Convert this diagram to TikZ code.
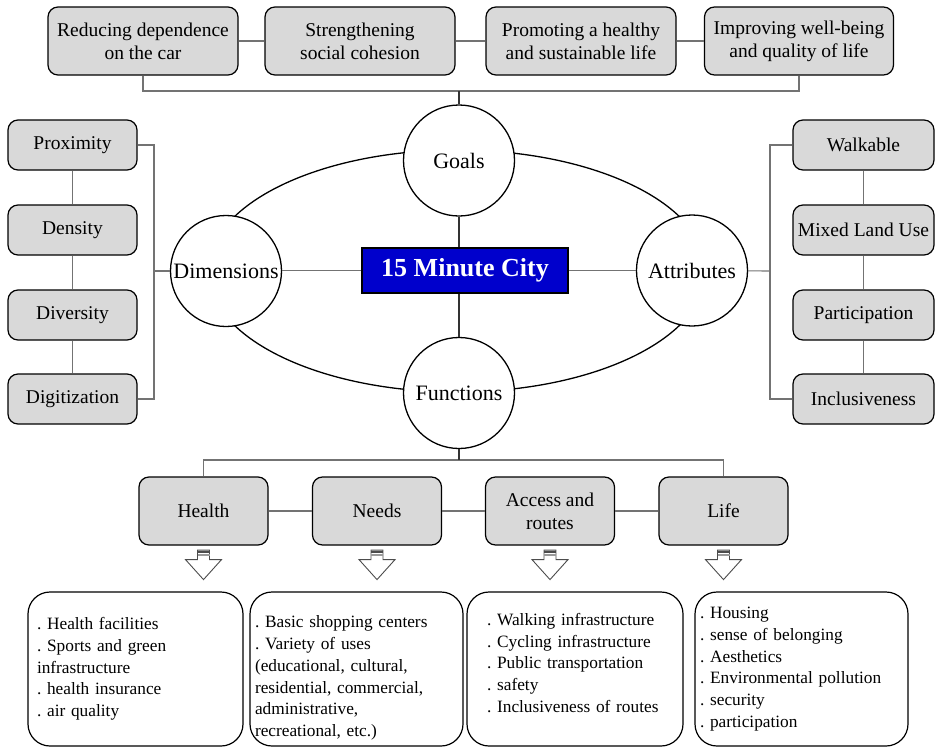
\documentclass[tikz,border=0pt]{standalone}
\usepackage{fontspec}
\setmainfont{Liberation Serif}
\usepackage{tikz}
\usepackage{xcolor}
\definecolor{cityblue}{RGB}{0,0,204}
\definecolor{boxgray}{RGB}{217,217,217}
\frenchspacing

% hollow arrow under a node
\newcommand{\hollowarrow}[1]{%
  \begin{scope}[shift={(#1.south)}]
    \draw[arrowline] (-6,4.5) -- (6,4.5) -- (6,14) -- (18,14) -- (0,34) -- (-18,14) -- (-6,14) -- cycle;
    \fill[black!70] (-6,5) rectangle (6,7);
    \fill[black!40] (-6,8) rectangle (6,10);
  \end{scope}}

\begin{document}
\begin{tikzpicture}[x=1pt,y=-1pt,
% common options for the gray boxes:
block/.style = {draw, fill=boxgray, rounded corners=10pt, line width=1.2pt,
            align=center, inner sep=0, font=\fontsize{19.5}{23}\selectfont},
% common options for the circles:
ball/.style = {circle, draw, fill=white, line width=1.3pt, minimum size=111pt,
            inner sep=0, font=\fontsize{22}{26}\selectfont},
% common options for the lists:
list/.style = {draw, rounded corners=22pt, line width=1.2pt, align=left,
            minimum height=154pt, inner ysep=0, font=\fontsize{17.3}{21.7}\selectfont},
link/.style = {draw=black!55, line width=1.1pt},
spoke/.style = {draw=black!80, line width=1.1pt},
arrowline/.style = {draw=black!70, fill=white, line width=0.9pt}]
\useasboundingbox (0,0) rectangle (935,747);
\draw[line width=1.3pt] (457,271) ellipse [x radius=249, y radius=121];
\node[ball] (goals) at (459,160.5) {Goals};
\node[ball] (dims) at (226,271) {Dimensions};
\node[ball] (attrs) at (692,270.5) {Attributes};
\node[ball] (funcs) at (459,393) {Functions};
\node[draw, fill=cityblue, text=white, line width=1.2pt, minimum width=206pt,
      minimum height=45pt, inner sep=0, font=\fontsize{26}{30}\selectfont\bfseries]
      (city) at (465,270.5) {15 Minute City};
\node[block,minimum width=190pt,minimum height=68pt] (goal1) at (143,41) {Reducing dependence\\on the car};
\node[block,minimum width=190pt,minimum height=68pt] (goal2) at (360,41) {Strengthening\\social cohesion};
\node[block,minimum width=190pt,minimum height=68pt] (goal3) at (581,41) {Promoting a healthy\\and sustainable life};
\node[block,minimum width=189pt,minimum height=68pt] (goal4) at (799,41) {Improving well-being\\and quality of life};
\node[block,minimum width=129pt,minimum height=50pt] (dim1) at (72.5,145) {Proximity};
\node[block,minimum width=129pt,minimum height=50pt] (dim2) at (72.5,230) {Density};
\node[block,minimum width=129pt,minimum height=50pt] (dim3) at (72.5,315) {Diversity};
\node[block,minimum width=129pt,minimum height=50pt] (dim4) at (72.5,399) {Digitization};
\node[block,minimum width=141pt,minimum height=50pt] (attr1) at (863.5,145) {Walkable};
\node[block,minimum width=141pt,minimum height=50pt] (attr2) at (863.5,230) {Mixed Land Use};
\node[block,minimum width=141pt,minimum height=50pt] (attr3) at (863.5,315) {Participation};
\node[block,minimum width=141pt,minimum height=50pt] (attr4) at (863.5,399) {Inclusiveness};
\node[block,minimum width=129pt,minimum height=68pt] (func1) at (203.5,511) {Health};
\node[block,minimum width=129pt,minimum height=68pt] (func2) at (377,511) {Needs};
\node[block,minimum width=129pt,minimum height=68pt] (func3) at (550,511) {Access and\\routes};
\node[block,minimum width=129pt,minimum height=68pt] (func4) at (723.5,511) {Life};
\node[list,text width=197pt,inner xsep=9pt] (list1) at (135.5,669)
  {. Health facilities\\. Sports and green\\infrastructure\\. health insurance\\. air quality};
\node[list,text width=203pt,inner xsep=5pt] (list2) at (356.5,669)
  {\rule{0pt}{30pt}. Basic shopping centers\\. Variety of uses\\(educational, cultural,\\residential, commercial,\\administrative,\\recreational, etc.)};
\node[list,text width=176pt,inner xsep=20pt] (list3) at (575,669)
  {. Walking infrastructure\\. Cycling infrastructure\\. Public transportation\\. safety\\. Inclusiveness of routes\vspace*{12pt}};
\node[list,text width=203pt,inner xsep=5pt] (list4) at (801.5,669)
  {. Housing\\. sense of belonging\\. Aesthetics\\. Environmental pollution\\. security\\. participation};
\coordinate (topbar) at (459,91);
\coordinate (leftbar) at (154,271);
\coordinate (rightbar) at (770,271);
\coordinate (funcbar) at (459,460);
\draw[link] (goal1) -- (goal2);
\draw[link] (goal2) -- (goal3);
\draw[link] (goal3) -- (goal4);
\draw[link] (goal1.south) |- (topbar) -| (goal4.south);
\draw[spoke] (topbar) -- (goals);
\draw[link] (dim1) -- (dim2);
\draw[link] (dim2) -- (dim3);
\draw[link] (dim3) -- (dim4);
\draw[link] (dim1.east) -| (leftbar) |- (dim4.east);
\draw[link] (leftbar) -- (dims);
\draw[link] (attr1) -- (attr2);
\draw[link] (attr2) -- (attr3);
\draw[link] (attr3) -- (attr4);
\draw[link] (attr1.west) -| (rightbar) |- (attr4.west);
\draw[link] (rightbar) -- (attrs);
\draw[spoke] (goals) -- (city.north -| goals);
\draw[spoke] (city.south -| funcs) -- (funcs);
\draw[link] (city.west) -- (dims.east |- city.west);
\draw[link] (city.east) -- (attrs.west |- city.east);
\draw[link] (func1) -- (func2);
\draw[link] (func2) -- (func3);
\draw[link] (func3) -- (func4);
\draw[link] (func1.north) |- (funcbar) -| (func4.north);
\draw[spoke] (funcs) -- (funcbar);
\hollowarrow{func1}
\hollowarrow{func2}
\hollowarrow{func3}
\hollowarrow{func4}
\end{tikzpicture}
\end{document}
